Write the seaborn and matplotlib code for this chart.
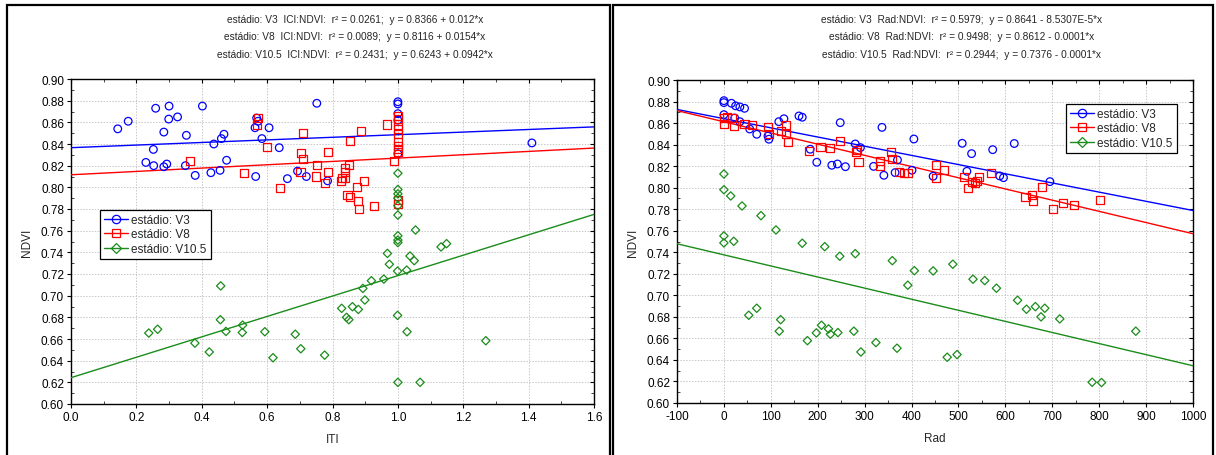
import numpy as np
import pandas as pd
import matplotlib
matplotlib.use("Agg")
import matplotlib.pyplot as plt
from matplotlib.lines import Line2D
from matplotlib.patches import Rectangle
from matplotlib.ticker import MultipleLocator, FormatStrFormatter
import matplotlib.markers as mmarkers
import seaborn as sns

# ---------------- data ----------------
stages = ["estádio: V3", "estádio: V8", "estádio: V10.5"]

iti_v3 = [0.143, 0.175, 0.259, 0.300, 0.299, 0.326, 0.284, 0.252, 0.229, 0.253, 0.284, 0.293, 0.350, 0.353,
          0.380, 0.402, 0.437, 0.460, 0.468, 0.428, 0.456, 0.476, 0.565, 0.563, 0.568, 0.572, 0.584, 0.606,
          0.637, 0.662, 0.693, 0.720, 0.752, 0.785, 1.0, 1.0, 1.0, 1.0, 1.0, 1.410]
ndvi_iti_v3 = [0.854, 0.861, 0.873, 0.875, 0.863, 0.865, 0.851, 0.835, 0.823, 0.820, 0.819, 0.8215, 0.820, 0.848,
               0.811, 0.875, 0.840, 0.845, 0.849, 0.8135, 0.8157, 0.825, 0.810, 0.855, 0.864, 0.861, 0.845, 0.855,
               0.8366, 0.808, 0.815, 0.810, 0.8776, 0.806, 0.879, 0.877, 0.868, 0.862, 0.831, 0.841]

iti_v8 = [0.363, 0.530, 0.568, 0.573, 0.599, 0.640, 0.710, 0.705, 0.710, 0.702, 0.752, 0.749, 0.778, 0.785,
          0.787, 0.825, 0.829, 0.838, 0.839, 0.837, 0.850, 0.854, 0.888, 0.897, 0.874, 0.846, 0.853, 0.878,
          0.882, 0.928, 0.967, 0.989, 1.0, 1.0, 1.0, 1.0, 1.0, 1.0, 1.0, 1.0, 1.0, 1.0, 1.0]
ndvi_iti_v8 = [0.824, 0.813, 0.858, 0.8637, 0.8375, 0.799, 0.850, 0.832, 0.826, 0.814, 0.8206, 0.810, 0.804, 0.833,
               0.814, 0.8055, 0.8086, 0.809, 0.814, 0.8175, 0.8206, 0.8427, 0.852, 0.806, 0.800, 0.793, 0.7908, 0.787,
               0.780, 0.783, 0.858, 0.8246, 0.866, 0.863, 0.858, 0.854, 0.849, 0.8415, 0.8384, 0.8354, 0.8323,
               0.788, 0.785]

iti_v105 = [1.0, 1.0, 1.0, 1.0, 1.0, 1.0, 1.054, 1.0, 1.0, 1.0, 1.132, 1.149, 0.968, 1.037, 1.050, 0.974, 0.999,
            1.027, 0.957, 0.919, 0.893, 0.899, 0.828, 0.861, 0.879, 0.843, 0.850, 0.999, 1.028, 1.269, 1.000, 1.068,
            0.238, 0.265, 0.379, 0.423, 0.458, 0.457, 0.474, 0.525, 0.524, 0.593, 0.618, 0.686, 0.703, 0.776]
ndvi_iti_v105 = [0.813, 0.798, 0.794, 0.790, 0.783, 0.7744, 0.7606, 0.7553, 0.7513, 0.749, 0.745, 0.748, 0.739,
                 0.7366, 0.7323, 0.729, 0.7227, 0.7236, 0.7153, 0.7138, 0.7067, 0.696, 0.6883, 0.6898, 0.6873,
                 0.680, 0.6778, 0.6818, 0.6667, 0.6584, 0.620, 0.620, 0.6655, 0.669, 0.6562, 0.648, 0.709, 0.6778,
                 0.667, 0.6728, 0.666, 0.6667, 0.6427, 0.6644, 0.651, 0.6451]

rad_v3 = [0, 0, 16, 25, 34, 44, 0, 23, 34, 55, 70, 94, 96, 117, 128, 160, 167, 184, 198, 230, 242, 248, 259, 280,
          291, 319, 337, 341, 370, 365, 401, 405, 446, 508, 528, 573, 619, 518, 588, 596, 695]
ndvi_rad_v3 = [0.8808, 0.879, 0.8784, 0.876, 0.875, 0.8737, 0.8678, 0.8647, 0.8613, 0.8545, 0.8496, 0.848, 0.845,
               0.8613, 0.864, 0.8666, 0.8654, 0.8357, 0.8236, 0.8208, 0.822, 0.8604, 0.8195, 0.8406, 0.8372, 0.8198,
               0.856, 0.8115, 0.8257, 0.814, 0.8162, 0.8452, 0.8106, 0.8412, 0.8316, 0.8353, 0.841, 0.8152, 0.8109,
               0.8093, 0.8056]

rad_v8 = [0, 0, 7, 17, 21, 44, 59, 94, 96, 121, 133, 132, 136, 181, 206, 227, 248, 281, 284, 287, 332, 332, 357,
          358, 373, 384, 393, 453, 453, 469, 512, 521, 528, 536, 539, 544, 569, 643, 656, 658, 679, 701, 722, 747, 802]
ndvi_rad_v8 = [0.8644, 0.859, 0.866, 0.8644, 0.857, 0.859, 0.8585, 0.856, 0.850, 0.8524, 0.8585, 0.850, 0.8422,
               0.8338, 0.838, 0.8366, 0.843, 0.8329, 0.835, 0.8241, 0.825, 0.8204, 0.8329, 0.8264, 0.8143, 0.8137,
               0.814, 0.8211, 0.809, 0.8167, 0.8102, 0.7994, 0.8053, 0.8041, 0.8062, 0.8097, 0.814, 0.7917, 0.793,
               0.7877, 0.8004, 0.7802, 0.7858, 0.7837, 0.7889]

rad_v105 = [0, 0, 14.5, 38.6, 79, 111, 0, 0, 21, 167, 215, 247, 280, 359, 406, 392, 446, 53, 70, 118, 121, 178,
            197, 208, 223, 227, 243, 277, 292, 324, 369, 488, 531, 556, 581, 626, 645, 664, 684, 676, 716, 878,
            476, 497, 785, 805]
ndvi_rad_v105 = [0.8127, 0.7981, 0.7923, 0.783, 0.774, 0.7607, 0.7552, 0.7487, 0.7502, 0.7484, 0.7452, 0.7363,
                 0.7387, 0.7322, 0.7229, 0.7094, 0.7227, 0.6815, 0.688, 0.6667, 0.6774, 0.6579, 0.6651, 0.6722,
                 0.6688, 0.6639, 0.6654, 0.6667, 0.6474, 0.6561, 0.6509, 0.7289, 0.715, 0.7137, 0.7066, 0.6954,
                 0.6871, 0.6895, 0.688, 0.680, 0.6781, 0.6667, 0.6425, 0.645, 0.6193, 0.619]

# regression lines (intercept, slope) per stage
iti_intercepts = [0.8366, 0.8116, 0.6243]
iti_slopes = [0.012, 0.0154, 0.0942]
rad_intercepts = [0.8641, 0.8612, 0.7376]
rad_slopes = [-8.5307e-5, -0.000104, -0.000103]

iti_titles = ["estádio: V3  ICI:NDVI:  r² = 0.0261;  y = 0.8366 + 0.012*x",
              "estádio: V8  ICI:NDVI:  r² = 0.0089;  y = 0.8116 + 0.0154*x",
              "estádio: V10.5  ICI:NDVI:  r² = 0.2431;  y = 0.6243 + 0.0942*x"]
rad_titles = ["estádio: V3  Rad:NDVI:  r² = 0.5979;  y = 0.8641 - 8.5307E-5*x",
              "estádio: V8  Rad:NDVI:  r² = 0.9498;  y = 0.8612 - 0.0001*x",
              "estádio: V10.5  Rad:NDVI:  r² = 0.2944;  y = 0.7376 - 0.0001*x"]

# ---------------- style ----------------
sns.set_style("ticks")
plt.rcParams["font.family"] = ["Liberation Sans", "DejaVu Sans"]
plt.rcParams["font.size"] = 8.5

colors = {stages[0]: "#0000ff", stages[1]: "#ff0000", stages[2]: "#1a8c1a"}
markers = {stages[0]: "o", stages[1]: "s", stages[2]: "D"}
sizes = {stages[0]: 30, stages[1]: 34, stages[2]: 18}

df_iti = pd.concat([
    pd.DataFrame({"x": iti_v3, "y": ndvi_iti_v3, "stage": stages[0]}),
    pd.DataFrame({"x": iti_v8, "y": ndvi_iti_v8, "stage": stages[1]}),
    pd.DataFrame({"x": iti_v105, "y": ndvi_iti_v105, "stage": stages[2]}),
], ignore_index=True)
df_rad = pd.concat([
    pd.DataFrame({"x": rad_v3, "y": ndvi_rad_v3, "stage": stages[0]}),
    pd.DataFrame({"x": rad_v8, "y": ndvi_rad_v8, "stage": stages[1]}),
    pd.DataFrame({"x": rad_v105, "y": ndvi_rad_v105, "stage": stages[2]}),
], ignore_index=True)

W, H = 1216, 456
fig = plt.figure(figsize=(W / 100, H / 100), dpi=100)
fig.patch.set_facecolor("white")

ax1 = fig.add_axes([71 / W, (H - 405) / H, 523 / W, 325 / H])
ax2 = fig.add_axes([677 / W, (H - 404) / H, 516 / W, 323 / H])


def draw_panel(ax, df, intercepts, slopes, xlim, xmaj, xmin, xfmt, xlabel):
    ax.set_xlim(*xlim)
    ax.set_ylim(0.60, 0.90)
    xs = np.array(xlim)
    for st, b0, b1 in zip(stages, intercepts, slopes):
        line_df = pd.DataFrame({"x": xs, "y": b0 + b1 * xs})
        sns.lineplot(data=line_df, x="x", y="y", ax=ax, color=colors[st], lw=1.0, legend=False, zorder=3)
    for st in stages:
        sub = df[df["stage"] == st]
        sns.scatterplot(data=sub, x="x", y="y", ax=ax, marker=markers[st], s=sizes[st],
                        facecolors="none", edgecolor=colors[st], linewidth=0.9, legend=False, zorder=4)
    ax.xaxis.set_major_locator(MultipleLocator(xmaj))
    ax.xaxis.set_minor_locator(MultipleLocator(xmin))
    ax.xaxis.set_major_formatter(FormatStrFormatter(xfmt))
    ax.yaxis.set_major_locator(MultipleLocator(0.02))
    ax.yaxis.set_minor_locator(MultipleLocator(0.01))
    ax.yaxis.set_major_formatter(FormatStrFormatter("%.2f"))
    ax.grid(True, which="major", color="#c8c8c8", linestyle=(0, (1.5, 1.5)), lw=0.7, zorder=0)
    ax.set_axisbelow(True)
    ax.tick_params(axis="both", which="major", direction="out", length=3, width=0.8,
                   labelsize=8.5, colors="black", pad=2, top=True, right=True)
    ax.tick_params(axis="both", which="minor", direction="in", length=2, width=0.6,
                   top=True, right=True)
    for sp in ax.spines.values():
        sp.set_visible(True)
        sp.set_color("black")
        sp.set_linewidth(1.0)
    ax.set_xlabel(xlabel, fontsize=8.5, labelpad=7)
    ax.set_ylabel("NDVI", fontsize=8.5, labelpad=6)
    ax.set_facecolor("white")
    # top and right major ticks point inward
    for t in ax.xaxis.get_major_ticks():
        t.tick2line.set_marker(mmarkers.TICKDOWN)
    for t in ax.yaxis.get_major_ticks():
        t.tick2line.set_marker(mmarkers.TICKLEFT)


draw_panel(ax1, df_iti, iti_intercepts, iti_slopes, (0.0, 1.6), 0.2, 0.1, "%.1f", "ITI")
draw_panel(ax2, df_rad, rad_intercepts, rad_slopes, (-100, 1000), 100, 50, "%d", "Rad")

handles = [Line2D([], [], color=colors[st], marker=markers[st], mfc="none", mec=colors[st],
                  ms={"o": 6, "s": 6, "D": 5}[markers[st]], lw=1.0, mew=0.9) for st in stages]
leg_kw = dict(frameon=True, fancybox=False, framealpha=1, edgecolor="black", fontsize=8.5,
              handlelength=2.0, handletextpad=0.3, borderpad=0.35, labelspacing=0.2, borderaxespad=0)
l1 = ax1.legend(handles, stages, loc="upper left", bbox_to_anchor=((100 - 71) / 523, (405 - 211) / 325), **leg_kw)
l2 = ax2.legend(handles, stages, loc="upper left", bbox_to_anchor=((1066 - 677) / 516, (404 - 105) / 323), **leg_kw)
for l in (l1, l2):
    l.get_frame().set_linewidth(0.9)

# titles (three lines above each panel)
for i, (t1, t2) in enumerate(zip(iti_titles, rad_titles)):
    ypx = 20 + 17.3 * i
    fig.text(355 / W, 1 - ypx / H, t1, ha="center", va="center", fontsize=7.3)
    fig.text(962 / W, 1 - ypx / H, t2, ha="center", va="center", fontsize=7.3)

# panel frames
fig.add_artist(Rectangle((7 / W, -0.02), (610 - 7) / W, (H - 6) / H + 0.02, transform=fig.transFigure,
                         fill=False, edgecolor="black", lw=1.6))
fig.add_artist(Rectangle((613 / W, -0.02), (1213 - 613) / W, (H - 6) / H + 0.02, transform=fig.transFigure,
                         fill=False, edgecolor="black", lw=1.6))

fig.savefig("out.png", dpi=100, facecolor="white")
